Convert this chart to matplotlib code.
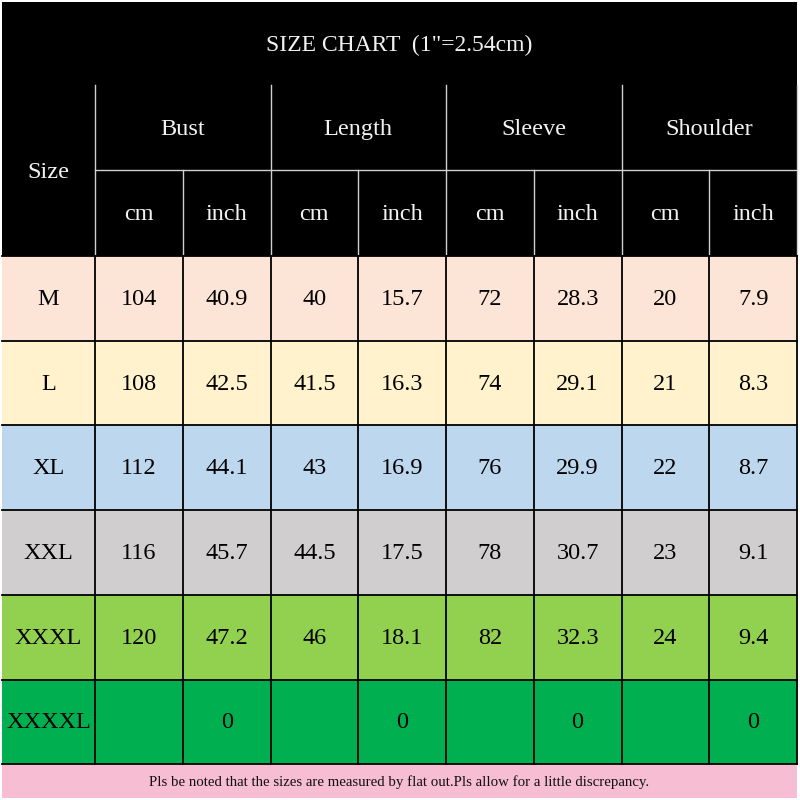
import matplotlib
matplotlib.use('Agg')
import matplotlib.pyplot as plt
from matplotlib.patches import Rectangle

# table content
title = 'SIZE CHART  (1"=2.54cm)'
footer = "Pls be noted that the sizes are measured by flat out.Pls allow for a little discrepancy."
groups = ["Bust", "Length", "Sleeve", "Shoulder"]
units = ["cm", "inch"]
sizes = ["M", "L", "XL", "XXL", "XXXL", "XXXXL"]
bust_cm = [104, 108, 112, 116, 120, None]
bust_inch = [40.9, 42.5, 44.1, 45.7, 47.2, 0]
length_cm = [40, 41.5, 43, 44.5, 46, None]
length_inch = [15.7, 16.3, 16.9, 17.5, 18.1, 0]
sleeve_cm = [72, 74, 76, 78, 82, None]
sleeve_inch = [28.3, 29.1, 29.9, 30.7, 32.3, 0]
shoulder_cm = [20, 21, 22, 23, 24, None]
shoulder_inch = [7.9, 8.3, 8.7, 9.1, 9.4, 0]
row_colors = ["#FCE4D6", "#FFF2CC", "#BDD7EE", "#D0CECE", "#92D050", "#00B050"]

columns = [bust_cm, bust_inch, length_cm, length_inch,
           sleeve_cm, sleeve_inch, shoulder_cm, shoulder_inch]

# layout (pixels)
LEFT, RIGHT, TOP = 2, 797, 2
SIZE_W = 95
COL_W = (RIGHT - SIZE_W) / len(columns)
TITLE_B, GROUP_B, HEAD_B = 85, 170, 256
ROW_H = 84.7
FOOT_H = 33
SERIF = "Liberation Serif"
HEAD_COLOR = "#f2f2f2"
HEAD_LINE = "#d0d0d0"

fig = plt.figure(figsize=(8, 8), dpi=100)
ax = fig.add_axes([0, 0, 1, 1])
ax.set_xlim(0, 800)
ax.set_ylim(800, 0)
ax.axis("off")

def col_x(i):
    return SIZE_W + i * COL_W

data_bottom = HEAD_B + ROW_H * len(sizes)

# header block
ax.add_patch(Rectangle((LEFT, TOP), RIGHT - LEFT, HEAD_B - TOP,
                       facecolor="black", edgecolor="none"))
ax.text((LEFT + RIGHT) / 2, (TOP + TITLE_B) / 2 + 2, title, color=HEAD_COLOR,
        family=SERIF, fontsize=17, ha="center", va="center")
ax.text(SIZE_W / 2 + 1, (TITLE_B + HEAD_B) / 2 + 2, "Size", color=HEAD_COLOR,
        family=SERIF, fontsize=17.5, ha="center", va="center")
for g, name in enumerate(groups):
    x0 = col_x(2 * g)
    ax.text(x0 + COL_W, (TITLE_B + GROUP_B) / 2 + 2, name, color=HEAD_COLOR,
            family=SERIF, fontsize=17.5, ha="center", va="center")
    for u, unit in enumerate(units):
        ax.text(x0 + COL_W * (u + 0.5), (GROUP_B + HEAD_B) / 2 + 2, unit,
                color=HEAD_COLOR, family=SERIF, fontsize=17.5,
                ha="center", va="center")
    ax.plot([x0, x0], [TITLE_B, HEAD_B], color=HEAD_LINE, lw=1.0)
    ax.plot([x0 + COL_W, x0 + COL_W], [GROUP_B, HEAD_B], color=HEAD_LINE, lw=1.0)
ax.plot([RIGHT, RIGHT], [TITLE_B, HEAD_B], color=HEAD_LINE, lw=1.0)
ax.plot([SIZE_W, RIGHT], [GROUP_B, GROUP_B], color=HEAD_LINE, lw=1.0)

# data rows
for r, size in enumerate(sizes):
    y0 = HEAD_B + r * ROW_H
    yc = y0 + ROW_H / 2 + 1
    ax.add_patch(Rectangle((LEFT, y0), RIGHT - LEFT, ROW_H,
                           facecolor=row_colors[r], edgecolor="none"))
    ax.text(SIZE_W / 2 + 1, yc, size, family=SERIF, fontsize=17.5,
            ha="center", va="center", color="black")
    for c, values in enumerate(columns):
        v = values[r]
        if v is None:
            continue
        ax.text(col_x(c) + COL_W / 2, yc, f"{v:g}", family=SERIF,
                fontsize=17.5, ha="center", va="center", color="black")
    ax.plot([LEFT, RIGHT], [y0 + ROW_H, y0 + ROW_H], color="black", lw=1.3)
ax.plot([LEFT, RIGHT], [HEAD_B, HEAD_B], color="black", lw=1.3)
for c in range(len(columns) + 1):
    x = col_x(c)
    ax.plot([x, x], [HEAD_B, data_bottom], color="black", lw=1.3)

# footer note
ax.add_patch(Rectangle((LEFT, data_bottom + 1), RIGHT - LEFT, FOOT_H,
                       facecolor="#F7BDD2", edgecolor="none"))
ax.text((LEFT + RIGHT) / 2, data_bottom + FOOT_H / 2 + 1, footer,
        family=SERIF, fontsize=10.7, ha="center", va="center", color="#111111")

fig.savefig("out.png", dpi=100, facecolor="white")
plt.close(fig)
